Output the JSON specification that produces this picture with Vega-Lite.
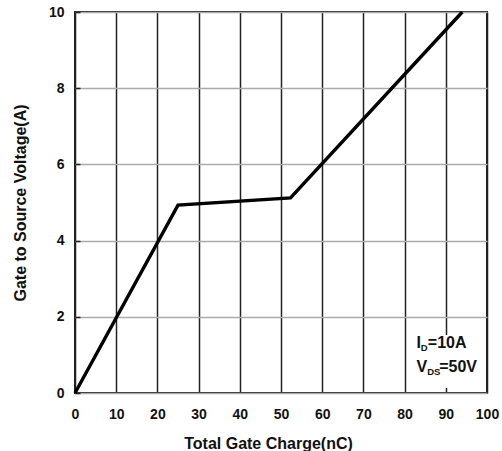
{
  "$schema": "https://vega.github.io/schema/vega-lite/v6.json",
  "width": 412,
  "height": 381,
  "autosize": "none",
  "padding": {"left": 75, "top": 12, "right": 15, "bottom": 58},
  "background": "white",
  "config": {
    "font": "Liberation Sans",
    "view": {"stroke": "#222", "strokeWidth": 2},
    "axis": {"labelFont": "Liberation Sans", "titleFont": "Liberation Sans", "labelFontWeight": "bold", "titleFontWeight": "bold", "labelColor": "#111", "titleColor": "#111", "labelFontSize": 14, "titleFontSize": 16, "domain": false}
  },
  "layer": [
    {
      "data": {"values": [
        {"q": 0, "v": 0},
        {"q": 25, "v": 4.93},
        {"q": 52.3, "v": 5.12},
        {"q": 94, "v": 10}
      ]},
      "mark": {"type": "line", "color": "black", "strokeWidth": 3.4},
      "encoding": {
        "x": {"field": "q", "type": "quantitative", "scale": {"domain": [0, 100], "nice": false},
          "axis": {"title": "Total Gate Charge(nC)", "values": [0,10,20,30,40,50,60,70,80,90,100], "grid": true, "gridColor": "#222", "gridOpacity": 1, "gridWidth": 1.5, "ticks": false, "labelPadding": 14, "titlePadding": 14, "titleX": 193, "labelFlush": false}},
        "y": {"field": "v", "type": "quantitative", "scale": {"domain": [0, 10], "nice": false},
          "axis": {"title": "Gate to Source Voltage(A)", "values": [0,2,4,6,8,10], "grid": true, "gridColor": "#aaa", "gridOpacity": 1, "gridWidth": 1.5, "ticks": true, "tickSize": -5, "tickColor": "#222", "tickWidth": 1.5, "labelPadding": 16, "titlePadding": 20, "labelFlush": false}}
      }
    },
    {
      "data": {"values": [{}]},
      "mark": {"type": "rect", "color": "white"},
      "encoding": {
        "x": {"datum": 81.5, "type": "quantitative"},
        "x2": {"datum": 99.7},
        "y": {"datum": 0.13, "type": "quantitative"},
        "y2": {"datum": 1.52}
      }
    },
    {
      "data": {"values": [{}]},
      "mark": {"type": "text", "text": "I", "fontSize": 16, "fontWeight": "bold", "align": "left", "baseline": "alphabetic", "color": "#111"},
      "encoding": {"x": {"datum": 82.9, "type": "quantitative"}, "y": {"datum": 1.17, "type": "quantitative"}}
    },
    {
      "data": {"values": [{}]},
      "mark": {"type": "text", "text": "D", "fontSize": 9.5, "fontWeight": "bold", "align": "left", "baseline": "alphabetic", "dx": 4.2, "dy": 3, "color": "#111"},
      "encoding": {"x": {"datum": 82.9, "type": "quantitative"}, "y": {"datum": 1.17, "type": "quantitative"}}
    },
    {
      "data": {"values": [{}]},
      "mark": {"type": "text", "text": "=10A", "fontSize": 16, "fontWeight": "bold", "align": "left", "baseline": "alphabetic", "dx": 11.3, "color": "#111"},
      "encoding": {"x": {"datum": 82.9, "type": "quantitative"}, "y": {"datum": 1.17, "type": "quantitative"}}
    },
    {
      "data": {"values": [{}]},
      "mark": {"type": "text", "text": "V", "fontSize": 16, "fontWeight": "bold", "align": "left", "baseline": "alphabetic", "color": "#111"},
      "encoding": {"x": {"datum": 82.9, "type": "quantitative"}, "y": {"datum": 0.55, "type": "quantitative"}}
    },
    {
      "data": {"values": [{}]},
      "mark": {"type": "text", "text": "DS", "fontSize": 9.5, "fontWeight": "bold", "align": "left", "baseline": "alphabetic", "dx": 10.6, "dy": 3, "color": "#111"},
      "encoding": {"x": {"datum": 82.9, "type": "quantitative"}, "y": {"datum": 0.55, "type": "quantitative"}}
    },
    {
      "data": {"values": [{}]},
      "mark": {"type": "text", "text": "=50V", "fontSize": 16, "fontWeight": "bold", "align": "left", "baseline": "alphabetic", "dx": 22.6, "color": "#111"},
      "encoding": {"x": {"datum": 82.9, "type": "quantitative"}, "y": {"datum": 0.55, "type": "quantitative"}}
    }
  ]
}
